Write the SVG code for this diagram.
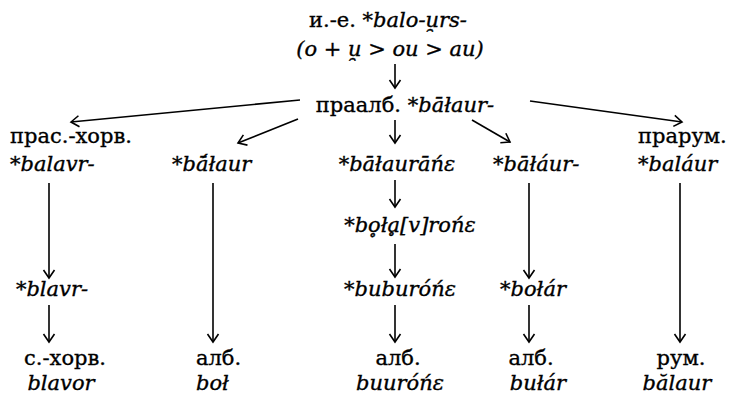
<svg xmlns="http://www.w3.org/2000/svg" width="735" height="395" viewBox="0 0 735 395">
<style>
text{font-family:"DejaVu Serif","Liberation Serif",serif;font-size:21px;fill:#000;stroke:#000;stroke-width:0.35}
.i{font-style:italic}
.m{text-anchor:middle}
.c line{stroke:#000;stroke-width:1.6;fill:none}
</style>
<defs>
<marker id="ah" markerUnits="userSpaceOnUse" viewBox="-10 -7 12 14" markerWidth="12" markerHeight="14" refX="0" refY="0" orient="auto">
<path d="M-8,-5.5 L0,0 L-8,5.5" fill="none" stroke="#000" stroke-width="1.6"/>
</marker>
</defs>
<rect width="735" height="395" fill="#fff"/>
<g id="root">
<text x="388" y="27" class="m">и.-е. <tspan class="i">*balo-u̯rs-</tspan></text>
<text x="390" y="56" class="m i">(o + u̯ &gt; ou &gt; au)</text>
</g>
<g id="proto-alb">
<text x="405" y="112" class="m">праалб. <tspan class="i">*bāłaur-</tspan></text>
</g>
<g id="proto-sc">
<text x="10" y="143">прас.-хорв.</text>
<text x="10" y="171" class="i">*balavr-</text>
</g>
<g id="col2">
<text x="172" y="171" class="i">*bā́łaur</text>
</g>
<g id="col3">
<text x="397" y="171" class="m i">*bāłaurāńɛ</text>
</g>
<g id="col4">
<text x="493" y="171" class="i">*bāłáur-</text>
</g>
<g id="proto-rum">
<text x="638" y="143">прарум.</text>
<text x="638" y="171" class="i">*baláur</text>
</g>
<g id="bota">
<text x="410" y="232" class="m i">*bo̥łḁ[v]rońɛ</text>
</g>
<g id="blavr">
<text x="52" y="296" class="m i">*blavr-</text>
</g>
<g id="buburone">
<text x="400" y="296" class="m i">*buburóńɛ</text>
</g>
<g id="bolar">
<text x="533" y="296" class="m i">*bołár</text>
</g>
<g id="sc">
<text x="65" y="365" class="m">с.-хорв.</text>
<text x="61" y="390" class="m i">blavor</text>
</g>
<g id="alb1">
<text x="196" y="365">алб.</text>
<text x="196" y="390" class="i">boł</text>
</g>
<g id="alb2">
<text x="398" y="365" class="m">алб.</text>
<text x="400" y="390" class="m i">buuróńɛ</text>
</g>
<g id="alb3">
<text x="531" y="365" class="m">алб.</text>
<text x="538" y="390" class="m i">bułár</text>
</g>
<g id="rum">
<text x="681" y="365" class="m">рум.</text>
<text x="677" y="390" class="m i">bălaur</text>
</g>
<g class="c" id="connectors">
<line x1="395" y1="64" x2="395" y2="88" marker-end="url(#ah)"/>
<line x1="300" y1="100" x2="71" y2="122" marker-end="url(#ah)"/>
<line x1="530" y1="101" x2="682" y2="122" marker-end="url(#ah)"/>
<line x1="298" y1="119" x2="238" y2="143" marker-end="url(#ah)"/>
<line x1="395" y1="120" x2="395" y2="143" marker-end="url(#ah)"/>
<line x1="472" y1="120" x2="510" y2="142" marker-end="url(#ah)"/>
<line x1="49" y1="183" x2="49" y2="278" marker-end="url(#ah)"/>
<line x1="213" y1="183" x2="213" y2="342" marker-end="url(#ah)"/>
<line x1="395" y1="180" x2="395" y2="207" marker-end="url(#ah)"/>
<line x1="395" y1="244" x2="395" y2="277" marker-end="url(#ah)"/>
<line x1="395" y1="305" x2="395" y2="342" marker-end="url(#ah)"/>
<line x1="529" y1="183" x2="529" y2="278" marker-end="url(#ah)"/>
<line x1="529" y1="305" x2="529" y2="342" marker-end="url(#ah)"/>
<line x1="49" y1="305" x2="49" y2="342" marker-end="url(#ah)"/>
<line x1="680" y1="183" x2="680" y2="342" marker-end="url(#ah)"/>
</g>
</svg>
